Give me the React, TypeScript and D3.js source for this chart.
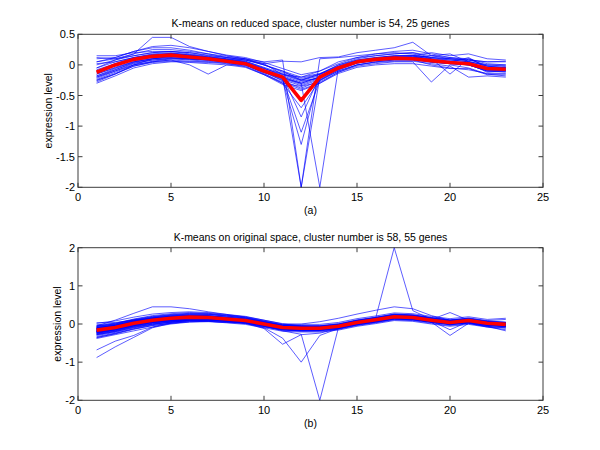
import React from "react";
import * as d3 from "d3";

const xTicks = [0, 5, 10, 15, 20, 25];
const topYTicks = [-2, -1.5, -1, -0.5, 0, 0.5];
const botYTicks = [-2, -1, 0, 1, 2];
const timePoints = d3.range(1, 24);

const topTitle = "K-means on reduced space, cluster number is 54, 25 genes";
const botTitle = "K-means on original space, cluster number is 58, 55 genes";
const yLabel = "expression level";

const topMean = [-0.12, 0.0, 0.09, 0.14, 0.16, 0.13, 0.1, 0.06, 0.02, -0.1, -0.2, -0.58, -0.2, -0.05, 0.05, 0.09, 0.11, 0.1, 0.07, 0.04, 0.02, -0.06, -0.07];

const topGenes: number[][] = [
  [-0.05,0.08,0.18,0.45,0.45,0.30,0.22,0.15,0.10,0.00,-0.10,-0.25,-0.15,0.00,0.10,0.15,0.18,0.20,0.12,0.08,0.05,-0.02,-0.05],
  [-0.20,-0.10,0.00,0.05,0.08,0.00,-0.15,0.00,0.00,-0.12,-0.22,-0.30,-0.20,-0.05,0.03,0.08,0.10,0.10,0.05,0.02,0.00,-0.10,-0.10],
  [0.15,0.15,0.20,0.22,0.22,0.20,0.15,0.12,0.10,0.05,0.08,-2.00,0.10,0.12,0.15,0.18,0.20,0.18,0.10,0.08,0.05,0.00,0.00],
  [-0.25,-0.15,0.00,0.10,0.12,0.10,0.08,0.05,0.02,-0.10,-0.20,-2.00,-0.20,-0.05,0.05,0.10,0.12,0.12,0.08,0.05,0.02,-0.08,-0.10],
  [-0.10,0.00,0.10,0.15,0.18,0.15,0.12,0.08,0.04,-0.08,-0.20,-0.30,-2.00,-0.05,0.05,0.10,0.12,0.12,0.08,0.05,0.00,-0.08,-0.08],
  [-0.15,-0.05,0.05,0.10,0.12,0.10,0.08,0.05,0.00,-0.12,-0.25,-1.30,-0.15,-0.05,0.05,0.08,0.10,0.10,0.05,0.03,0.00,-0.08,-0.08],
  [-0.08,0.02,0.12,0.18,0.20,0.16,0.12,0.08,0.04,-0.10,-0.22,-1.10,-0.25,-0.08,0.03,0.08,0.12,0.12,0.08,0.05,0.03,-0.05,-0.05],
  [-0.18,-0.06,0.05,0.10,0.14,0.12,0.10,0.06,0.02,-0.08,-0.18,-0.85,-0.18,-0.05,0.05,0.08,0.10,0.10,0.06,0.04,0.02,-0.06,-0.06],
  [-0.22,-0.10,0.02,0.08,0.10,0.08,0.06,0.04,0.00,-0.14,-0.30,-0.70,-0.25,-0.10,0.00,0.05,0.08,0.08,0.04,0.02,0.00,-0.10,-0.12],
  [0.10,0.12,0.22,0.28,0.28,0.24,0.18,0.12,0.08,0.00,-0.10,-0.20,-0.10,0.05,0.12,0.15,0.18,0.20,0.15,0.12,0.10,0.02,0.00],
  [0.05,0.10,0.18,0.25,0.25,0.22,0.18,0.14,0.10,0.02,0.06,0.05,0.12,0.13,0.20,0.24,0.28,0.37,0.15,0.10,0.08,0.05,0.05],
  [-0.28,-0.15,-0.02,0.05,0.08,0.06,0.05,0.03,-0.02,-0.15,-0.28,-0.40,-0.30,-0.12,-0.02,0.02,0.05,0.05,-0.28,0.00,-0.05,-0.15,-0.18],
  [-0.30,-0.18,-0.05,0.02,0.05,0.05,0.04,0.02,-0.03,-0.16,-0.30,-0.35,-0.28,-0.12,0.00,0.04,0.06,0.06,0.02,-0.02,-0.20,-0.18,-0.20],
  [0.12,0.10,0.15,0.20,0.22,0.20,0.16,0.12,0.08,0.00,-0.12,-0.22,-0.15,0.00,0.08,0.12,0.15,0.15,0.20,0.15,0.18,0.10,0.08],
  [-0.12,0.00,0.10,0.15,0.18,0.15,0.10,0.08,0.04,-0.06,-0.15,-0.25,-0.18,-0.05,0.05,0.10,0.12,0.14,0.10,-0.15,0.10,-0.02,-0.05],
  [-0.05,0.05,0.12,0.17,0.18,0.15,0.12,0.09,0.06,-0.05,-0.18,-0.28,-0.20,-0.06,0.05,0.10,0.13,0.13,0.10,0.06,0.02,-0.04,-0.04],
  [-0.20,-0.08,0.04,0.10,0.14,0.11,0.09,0.06,0.01,-0.12,-0.22,-0.32,-0.22,-0.06,0.04,0.08,0.10,0.10,0.06,0.03,0.00,-0.10,-0.10],
  [0.00,0.08,0.15,0.20,0.22,0.18,0.14,0.10,0.06,-0.04,-0.14,-0.24,-0.16,-0.02,0.08,0.12,0.15,0.16,0.12,0.10,0.06,-0.02,-0.02],
  [-0.15,-0.04,0.06,0.12,0.15,0.13,0.10,0.07,0.03,-0.09,-0.20,-0.30,-0.20,-0.06,0.04,0.09,0.11,0.12,0.15,0.18,0.05,-0.08,-0.08],
  [0.02,0.05,0.12,0.16,0.18,0.16,0.13,0.10,0.08,0.02,-0.16,-0.26,-0.22,-0.04,0.06,0.11,0.14,0.15,0.08,0.04,0.12,-0.05,-0.04],
  [-0.24,-0.12,0.00,0.06,0.10,0.10,0.08,0.05,0.00,-0.12,-0.26,-0.38,-0.26,-0.10,0.00,0.05,0.08,0.08,0.00,-0.05,-0.08,-0.14,-0.14],
  [-0.10,0.02,0.10,0.16,0.19,0.17,0.13,0.09,0.05,-0.06,-0.16,-0.20,-0.14,-0.02,0.07,0.11,0.14,0.15,0.12,0.10,0.08,0.00,-0.02],
  [-0.18,-0.08,0.03,0.08,0.11,0.09,0.08,0.05,0.02,-0.10,-0.24,-0.34,-0.24,-0.08,0.03,0.07,0.09,0.09,0.05,0.02,0.02,-0.12,-0.10],
  [0.05,0.12,0.22,0.30,0.32,0.28,0.22,0.16,0.12,0.04,-0.06,-0.16,-0.10,0.02,0.12,0.18,0.22,0.24,0.18,0.12,0.08,0.05,0.06],
  [-0.26,-0.14,-0.02,0.04,0.06,0.04,0.02,0.00,-0.04,-0.16,-0.32,-0.42,-0.30,-0.14,-0.04,0.00,0.02,0.02,-0.02,-0.06,-0.06,-0.16,-0.16],
];

const botMean = [-0.16, -0.09, 0.02, 0.1, 0.15, 0.18, 0.17, 0.13, 0.09, 0.0, -0.09, -0.11, -0.11, -0.06, 0.04, 0.11, 0.19, 0.17, 0.1, 0.04, 0.09, 0.02, -0.01];

const botGenes: number[][] = [
  [-0.10,-0.04,0.07,0.15,0.20,0.23,0.22,0.18,0.14,0.05,-0.04,-0.06,-0.06,-0.01,0.09,0.16,0.24,0.22,0.15,0.09,0.14,0.07,0.04],
  [-0.21,-0.14,-0.03,0.05,0.10,0.13,0.12,0.08,0.04,-0.05,-0.14,-0.16,-0.16,-0.11,-0.01,0.06,0.14,0.12,0.05,-0.01,0.04,-0.03,-0.06],
  [-0.05,0.00,0.12,0.20,0.25,0.28,0.27,0.23,0.19,0.10,0.01,-0.01,-0.01,0.04,0.14,0.21,0.29,0.27,0.20,0.14,0.19,0.12,0.15],
  [-0.28,-0.20,-0.08,0.00,0.05,0.08,0.07,0.03,-0.01,-0.10,-0.19,-0.21,-0.21,-0.16,-0.06,0.01,0.09,0.07,0.00,-0.06,-0.01,-0.08,-0.11],
  [0.02,0.08,0.18,0.26,0.30,0.32,0.30,0.25,0.20,0.10,0.00,-0.05,-0.08,-0.04,0.05,0.11,0.19,0.17,0.10,0.04,0.09,0.02,-0.01],
  [-0.35,-0.26,-0.14,-0.04,0.02,0.06,0.07,0.05,0.03,-0.04,-0.10,-0.10,-0.08,-0.02,0.08,0.15,0.23,0.22,0.15,0.08,0.12,0.05,0.02],
  [-0.12,-0.06,0.04,0.11,0.15,0.17,0.16,0.12,0.08,-0.02,-0.12,-0.15,-0.16,-0.10,0.00,0.07,0.14,0.12,0.06,0.00,0.05,-0.03,-0.06],
  [-0.19,-0.10,0.03,0.12,0.18,0.21,0.20,0.16,0.11,0.02,-0.07,-0.09,-0.09,-0.04,0.06,0.13,0.21,0.19,0.12,0.30,0.10,0.03,0.00],
  [-0.25,-0.16,-0.04,0.05,0.10,0.14,0.14,0.11,0.07,-0.02,-0.12,-0.14,-0.13,-0.08,0.02,0.09,0.17,0.15,0.08,-0.15,0.06,-0.01,-0.04],
  [-0.08,-0.02,0.09,0.17,0.22,0.24,0.22,0.17,0.12,0.03,-0.06,-0.08,-0.08,-0.03,0.07,0.13,0.20,0.18,0.11,0.05,0.10,0.03,0.00],
  [-0.30,-0.22,-0.10,-0.01,0.05,0.09,0.09,0.06,0.03,-0.06,-0.15,-0.18,-0.18,-0.13,-0.03,0.04,0.12,0.10,0.04,-0.02,0.02,-0.08,-0.15],
  [-0.14,-0.07,0.05,0.14,0.19,0.22,0.21,0.17,0.12,0.03,-0.06,-0.08,-0.07,-0.02,0.08,0.15,0.23,0.21,0.14,0.07,0.12,0.05,0.02],
  [0.03,0.04,0.10,0.15,0.18,0.20,0.19,0.15,0.11,0.02,-0.07,-0.09,-0.09,-0.04,0.05,0.12,0.20,0.18,0.11,0.05,0.10,0.03,0.00],
  [-0.22,-0.15,-0.04,0.04,0.08,0.11,0.11,0.08,0.05,-0.04,-0.13,-0.15,-0.14,-0.09,0.01,0.08,0.16,0.14,0.07,0.01,0.06,-0.01,-0.04],
  [-0.17,-0.11,0.00,0.09,0.14,0.17,0.17,0.14,0.10,0.02,-0.08,-0.10,-0.12,-0.08,0.02,0.10,0.18,0.17,0.11,0.06,0.10,0.04,0.02],
  [-0.11,-0.03,0.08,0.16,0.21,0.25,0.25,0.21,0.16,0.06,-0.04,-0.07,-0.07,-0.03,0.07,0.14,0.22,0.20,0.13,0.07,0.11,0.04,0.01],
  [-0.38,-0.28,-0.18,-0.08,0.00,0.05,0.06,0.04,0.01,-0.08,-0.16,-0.18,-0.17,-0.12,-0.02,0.05,0.13,0.11,0.05,-0.01,0.03,-0.04,-0.07],
  [-0.20,-0.12,-0.01,0.07,0.12,0.16,0.16,0.13,0.09,0.01,-0.09,-0.12,-0.12,-0.07,0.04,0.12,0.21,0.19,0.13,0.07,0.11,0.04,0.01],
  [-0.13,-0.05,0.06,0.13,0.17,0.20,0.19,0.15,0.10,0.01,-0.08,-0.10,-0.10,-0.05,0.05,0.12,0.20,0.18,0.12,0.07,0.12,0.06,0.03],
  [-0.24,-0.17,-0.06,0.02,0.07,0.10,0.10,0.07,0.03,-0.06,-0.16,-0.19,-0.19,-0.14,-0.04,0.03,0.11,0.09,0.02,-0.04,0.01,-0.06,-0.09],
  [-0.06,0.00,0.10,0.18,0.23,0.26,0.25,0.20,0.15,0.05,-0.04,-0.06,-0.05,0.00,0.10,0.17,0.25,0.23,0.16,0.10,0.15,0.08,0.05],
  [-0.18,-0.09,0.02,0.10,0.14,0.17,0.16,0.12,0.08,-0.01,-0.10,-0.12,-0.12,-0.07,0.03,0.10,0.18,0.16,0.09,0.03,0.08,0.01,-0.02],
  [-0.15,-0.08,0.03,0.11,0.16,0.19,0.18,0.14,0.10,0.01,-0.08,-0.10,-0.10,-0.05,0.05,0.12,0.20,0.18,0.11,0.05,0.10,0.03,0.00],
  [-0.27,-0.19,-0.07,0.02,0.08,0.12,0.12,0.10,0.06,-0.03,-0.12,-0.14,-0.15,-0.10,0.00,0.07,0.15,0.13,0.06,0.00,0.04,-0.03,-0.06],
  [-0.02,0.02,0.11,0.19,0.24,0.27,0.26,0.21,0.16,0.07,-0.02,-0.04,-0.04,0.01,0.11,0.18,0.26,0.24,0.17,0.11,0.16,0.09,0.12],
  [-0.16,-0.10,0.01,0.09,0.14,0.17,0.17,0.14,0.10,0.01,-0.08,-0.10,-0.11,-0.06,0.04,0.11,0.19,0.17,0.10,0.04,0.09,0.02,-0.01],
  [-0.20,-0.14,-0.02,0.06,0.11,0.14,0.13,0.10,0.05,-0.04,-0.13,-0.15,-0.15,-0.10,0.00,0.07,0.15,0.13,0.06,0.01,0.05,-0.02,-0.05],
  [-0.10,-0.04,0.06,0.14,0.19,0.22,0.21,0.17,0.13,0.04,-0.05,-0.07,-0.06,-0.01,0.09,0.16,0.24,0.22,0.15,0.09,0.13,0.06,0.03],
  [-0.33,-0.24,-0.13,-0.04,0.02,0.06,0.07,0.05,0.02,-0.07,-0.15,-0.17,-0.16,-0.11,-0.01,0.06,0.14,0.12,0.06,0.00,0.04,-0.03,-0.06],
  [-0.14,-0.08,0.04,0.12,0.17,0.20,0.20,0.16,0.11,0.02,-0.07,-0.09,-0.09,-0.04,0.06,0.13,0.21,0.19,0.12,0.06,0.10,0.03,0.00],
  [-0.19,-0.11,0.00,0.08,0.13,0.16,0.15,0.11,0.07,-0.02,-0.11,-0.13,-0.13,-0.08,0.02,0.09,0.17,0.15,0.08,0.02,0.07,0.00,-0.03],
  [-0.09,-0.03,0.07,0.15,0.19,0.21,0.20,0.15,0.10,0.01,-0.08,-0.09,-0.08,-0.03,0.07,0.14,0.22,0.20,0.13,0.07,0.12,0.05,0.02],
  [-0.23,-0.15,-0.03,0.06,0.11,0.15,0.15,0.12,0.08,-0.01,-0.10,-0.13,-0.13,-0.08,0.02,0.09,0.17,0.15,0.08,0.02,0.06,-0.01,-0.04],
  [-0.12,-0.06,0.05,0.12,0.16,0.19,0.18,0.14,0.10,0.02,-0.07,-0.09,-0.10,-0.06,0.03,0.10,0.17,0.15,0.09,0.04,0.08,0.02,-0.01],
  [-0.36,-0.25,-0.12,-0.02,0.05,0.10,0.11,0.09,0.06,-0.02,-0.11,-0.13,-0.12,-0.07,0.03,0.10,0.18,0.16,0.09,0.03,0.07,0.00,-0.03],
  [-0.05,0.02,0.13,0.22,0.27,0.30,0.28,0.23,0.17,0.07,-0.03,-0.06,-0.07,-0.03,0.06,0.12,0.19,0.17,0.10,0.04,0.08,0.01,-0.02],
  [-0.18,-0.12,-0.02,0.05,0.09,0.12,0.12,0.10,0.07,0.00,-0.08,-0.09,-0.08,-0.02,0.09,0.17,0.26,0.24,0.17,0.10,0.14,0.07,0.04],
  [-0.16,-0.08,0.03,0.11,0.16,0.19,0.18,0.14,0.09,0.00,-0.09,-0.11,-0.11,-0.06,0.04,0.11,0.19,0.17,0.10,0.04,0.09,0.02,-0.01],
  [-0.21,-0.13,-0.01,0.08,0.13,0.16,0.16,0.13,0.09,0.00,-0.10,-0.13,-0.14,-0.09,0.01,0.08,0.16,0.14,0.07,0.01,0.06,-0.01,-0.04],
  [-0.07,-0.01,0.09,0.16,0.20,0.22,0.21,0.17,0.13,0.04,-0.05,-0.07,-0.07,-0.02,0.08,0.14,0.21,0.19,0.12,0.06,0.10,0.04,0.01],
  [-0.26,-0.18,-0.05,0.04,0.09,0.13,0.13,0.10,0.06,-0.03,-0.12,-0.14,-0.14,-0.09,0.01,0.08,0.16,0.14,0.07,0.01,0.05,-0.02,-0.05],
  [-0.13,-0.07,0.04,0.12,0.17,0.20,0.19,0.15,0.11,0.02,-0.07,-0.09,-0.09,-0.04,0.06,0.13,0.21,0.19,0.12,0.06,0.11,0.04,0.01],
  [-0.19,-0.13,-0.03,0.05,0.10,0.13,0.13,0.10,0.06,-0.03,-0.12,-0.14,-0.13,-0.08,0.02,0.09,0.16,0.14,0.08,0.02,0.06,-0.01,-0.04],
  [-0.11,-0.05,0.06,0.14,0.18,0.21,0.20,0.16,0.12,0.03,-0.06,-0.08,-0.08,-0.03,0.07,0.14,0.22,0.20,0.13,0.07,0.11,0.05,0.02],
  [-0.17,-0.09,0.01,0.09,0.13,0.16,0.15,0.11,0.08,-0.01,-0.10,-0.12,-0.12,-0.07,0.03,0.10,0.18,0.16,0.09,0.03,0.08,0.01,-0.02],
  [-0.28,-0.20,-0.09,0.00,0.06,0.10,0.10,0.08,0.04,-0.05,-0.14,-0.16,-0.16,-0.11,-0.01,0.06,0.14,0.12,0.05,-0.01,0.03,-0.06,-0.18],
  [-0.14,-0.08,0.02,0.10,0.14,0.16,0.15,0.12,0.08,0.00,-0.08,-0.10,-0.09,-0.03,0.07,0.15,2.00,0.35,0.12,0.05,0.10,0.03,0.00],
  [-0.20,-0.12,-0.01,0.07,0.12,0.15,0.14,0.10,0.06,-0.05,-0.18,-0.27,-2.00,-0.10,0.02,0.09,0.17,0.15,0.09,0.03,0.08,0.01,-0.02],
  [-0.22,-0.14,-0.03,0.05,0.10,0.13,0.12,0.08,0.03,-0.10,-0.37,-1.00,-0.30,-0.12,0.00,0.08,0.16,0.14,0.07,0.01,0.06,-0.01,-0.04],
  [-0.24,-0.15,-0.05,0.04,0.09,0.12,0.11,0.07,0.02,-0.12,-0.53,-0.28,-0.24,-0.12,-0.02,0.06,0.14,0.12,0.06,0.00,0.04,-0.03,-0.06],
  [-0.88,-0.60,-0.35,-0.10,0.02,0.08,0.10,0.08,0.05,-0.04,-0.12,-0.14,-0.14,-0.09,0.01,0.08,0.16,0.14,0.07,0.01,0.05,-0.02,-0.06],
  [-0.68,-0.45,-0.30,-0.08,0.04,0.10,0.11,0.09,0.06,-0.03,-0.11,-0.13,-0.12,-0.07,0.03,0.10,0.18,0.16,0.09,0.03,0.07,0.00,-0.04],
  [-0.05,0.10,0.28,0.45,0.45,0.40,0.32,0.25,0.18,0.08,-0.02,-0.05,-0.06,-0.02,0.08,0.14,0.22,0.20,0.12,0.06,0.10,0.03,0.00],
  [-0.10,-0.04,0.05,0.12,0.16,0.18,0.17,0.14,0.10,0.03,-0.02,0.00,0.06,0.15,0.26,0.36,0.45,0.40,0.22,0.10,0.12,0.04,0.01],
  [-0.20,-0.12,-0.01,0.08,0.13,0.16,0.16,0.12,0.08,-0.01,-0.10,-0.12,-0.12,-0.07,0.03,0.10,0.17,0.15,0.05,-0.30,0.02,-0.06,-0.10],
];

const FONT = "'Liberation Sans', Arial, Helvetica, sans-serif";
const AXIS = "#3c3c3c";
const FS = 10.5;

type PanelProps = {
  top: number;
  bottom: number;
  yDomain: [number, number];
  yTicks: number[];
  genes: number[][];
  mean: number[];
  title: string;
  tag: string;
  ylabelX: number;
};

function Panel({ top, bottom, yDomain, yTicks, genes, mean, title, tag, ylabelX }: PanelProps) {
  const left = 78;
  const right = 543;
  const x = d3.scaleLinear().domain([0, 25]).range([left, right]);
  const y = d3.scaleLinear().domain(yDomain).range([bottom, top]);
  const line = d3
    .line<number>()
    .x((_, i) => x(timePoints[i]))
    .y((v) => y(v));
  const tl = 4.5;
  return (
    <g>
      <g fill="none" strokeLinejoin="miter">
        {genes.map((g, i) => (
          <path key={i} d={line(g) || ""} stroke="#0000ff" strokeWidth={0.8} strokeOpacity={0.8} />
        ))}
        <path d={line(mean) || ""} stroke="#ff0000" strokeWidth={3.6} strokeLinejoin="round" />
      </g>
      <rect x={left} y={top} width={right - left} height={bottom - top} fill="none" stroke={AXIS} strokeWidth={1} />
      {xTicks.map((t) => (
        <g key={"x" + t}>
          <line x1={x(t)} x2={x(t)} y1={bottom} y2={bottom - tl} stroke={AXIS} />
          <line x1={x(t)} x2={x(t)} y1={top} y2={top + tl} stroke={AXIS} />
          <text x={x(t)} y={bottom + 14} textAnchor="middle" fontSize={11} fontFamily={FONT} fill="#000">
            {t}
          </text>
        </g>
      ))}
      {yTicks.map((t) => (
        <g key={"y" + t}>
          <line x1={left} x2={left + tl} y1={y(t)} y2={y(t)} stroke={AXIS} />
          <line x1={right} x2={right - tl} y1={y(t)} y2={y(t)} stroke={AXIS} />
          <text x={left - 3} y={y(t) + 4} textAnchor="end" fontSize={11} fontFamily={FONT} fill="#000">
            {String(t)}
          </text>
        </g>
      ))}
      <text x={(left + right) / 2} y={top - 7} textAnchor="middle" fontSize={FS} fontFamily={FONT} fill="#000">
        {title}
      </text>
      <text x={(left + right) / 2} y={bottom + 27} textAnchor="middle" fontSize={FS} fontFamily={FONT} fill="#000">
        {tag}
      </text>
      <text
        transform={`translate(${ylabelX},${(top + bottom) / 2}) rotate(-90)`}
        textAnchor="middle"
        fontSize={FS}
        fontFamily={FONT}
        fill="#000"
      >
        {yLabel}
      </text>
    </g>
  );
}

export default function App() {
  return (
    <svg
      width={600}
      height={450}
      style={{ position: "absolute", left: 0, top: 0, background: "#fff" }}
    >
      <rect x={0} y={0} width={600} height={450} fill="#fff" />
      <Panel
        top={34.3}
        bottom={187.3}
        yDomain={[-2, 0.5]}
        yTicks={topYTicks}
        genes={topGenes}
        mean={topMean}
        title={topTitle}
        tag="(a)"
        ylabelX={52}
      />
      <Panel
        top={247.7}
        bottom={400.3}
        yDomain={[-2, 2]}
        yTicks={botYTicks}
        genes={botGenes}
        mean={botMean}
        title={botTitle}
        tag="(b)"
        ylabelX={61}
      />
    </svg>
  );
}
